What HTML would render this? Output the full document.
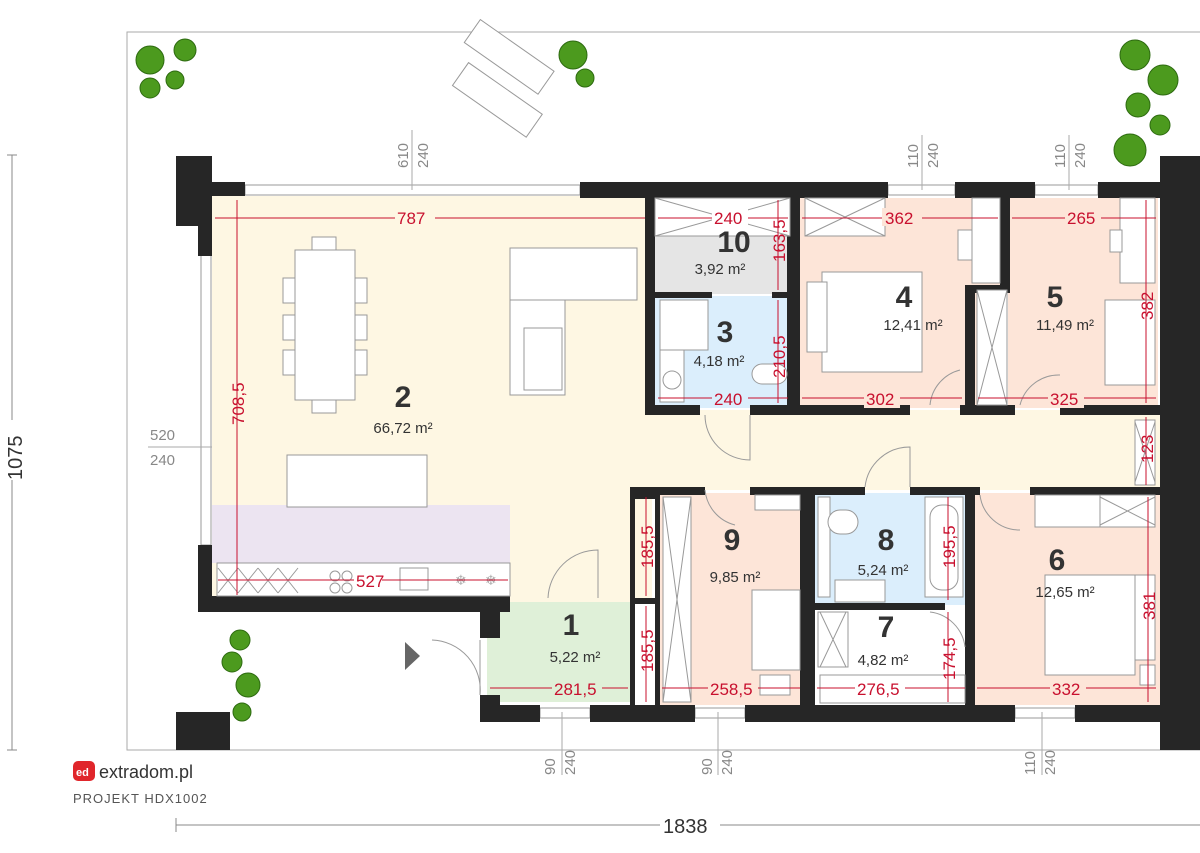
<!DOCTYPE html>
<html><head><meta charset="utf-8"><style>
html,body{margin:0;padding:0;background:#fff;width:1200px;height:853px;overflow:hidden}
svg{display:block}
.w{fill:#262626}
.r{stroke:#c8102e;stroke-width:1}
.rt{fill:#c8102e;font-family:"Liberation Sans",sans-serif;font-size:17px}
.n{fill:#333;font-family:"Liberation Sans",sans-serif;font-size:30px;font-weight:bold}
.a{fill:#333;font-family:"Liberation Sans",sans-serif;font-size:15px}
.g{fill:#888;font-family:"Liberation Sans",sans-serif;font-size:15px}
.f{fill:#fff;stroke:#999;stroke-width:1}
.ln{stroke:#999;stroke-width:1;fill:none}
</style></head><body>
<svg width="1200" height="853" viewBox="0 0 1200 853" xmlns="http://www.w3.org/2000/svg">
<!-- outer site border -->
<rect x="127" y="32" width="1100" height="718" fill="none" stroke="#aaa"/>
<!-- room fills -->
<rect x="212" y="196" width="440" height="404" fill="#fef7e3"/>
<rect x="645" y="410" width="515" height="80" fill="#fef7e3"/>
<rect x="500" y="487" width="135" height="115" fill="#fef7e3"/>
<rect x="212" y="505" width="298" height="58" fill="#ece4f1"/>
<rect x="655" y="198" width="135" height="96" fill="#e5e5e5"/>
<rect x="655" y="296" width="135" height="112" fill="#dbeefc"/>
<rect x="800" y="198" width="205" height="210" fill="#fde5d8"/>
<rect x="1008" y="198" width="150" height="210" fill="#fde5d8"/>
<rect x="660" y="493" width="145" height="212" fill="#fde5d8"/>
<rect x="815" y="493" width="155" height="112" fill="#dbeefc"/>
<rect x="815" y="607" width="155" height="98" fill="#fff"/>
<rect x="970" y="493" width="190" height="212" fill="#fde5d8"/>
<rect x="487" y="602" width="143" height="100" fill="#dff0d8"/>

<!-- windows -->
<g stroke="#999" fill="#fff">
<rect x="245" y="185" width="335" height="10"/>
<rect x="888" y="185" width="67" height="10"/>
<rect x="1035" y="185" width="63" height="10"/>
<rect x="201" y="255" width="10" height="290"/>
<rect x="540" y="708" width="50" height="10"/>
<rect x="695" y="708" width="50" height="10"/>
<rect x="1015" y="708" width="60" height="10"/>
</g>
<!-- walls -->
<g class="w">
<rect x="176" y="156" width="36" height="70"/>
<rect x="198" y="182" width="47" height="14"/>
<rect x="198" y="196" width="14" height="60"/>
<rect x="580" y="182" width="308" height="16"/>
<rect x="955" y="182" width="80" height="16"/>
<rect x="1098" y="182" width="62" height="16"/>
<rect x="1160" y="156" width="40" height="594"/>
<rect x="198" y="545" width="14" height="67"/>
<rect x="198" y="596" width="312" height="16"/>
<rect x="176" y="712" width="54" height="38"/>
<rect x="480" y="600" width="20" height="38"/>
<rect x="480" y="695" width="20" height="27"/>
<rect x="480" y="705" width="60" height="17"/>
<rect x="590" y="705" width="105" height="17"/>
<rect x="745" y="705" width="270" height="17"/>
<rect x="1075" y="705" width="85" height="17"/>
<rect x="645" y="198" width="10" height="217"/>
<rect x="787" y="198" width="13" height="217"/>
<rect x="655" y="292" width="57" height="6"/>
<rect x="772" y="292" width="18" height="6"/>
<rect x="645" y="405" width="55" height="10"/>
<rect x="750" y="405" width="160" height="10"/>
<rect x="960" y="405" width="55" height="10"/>
<rect x="1060" y="405" width="100" height="10"/>
<rect x="1000" y="198" width="10" height="92"/>
<rect x="965" y="285" width="45" height="8"/>
<rect x="965" y="285" width="10" height="130"/>
<rect x="630" y="487" width="75" height="8"/>
<rect x="750" y="487" width="115" height="8"/>
<rect x="910" y="487" width="70" height="8"/>
<rect x="1030" y="487" width="130" height="8"/>
<rect x="630" y="487" width="30" height="12"/>
<rect x="655" y="487" width="5" height="218"/>
<rect x="630" y="487" width="5" height="218"/>
<rect x="630" y="598" width="30" height="6"/>
<rect x="800" y="487" width="15" height="218"/>
<rect x="815" y="603" width="130" height="7"/>
<rect x="965" y="487" width="10" height="218"/>
</g>
<!-- furniture -->
<g class="f">
<rect x="295" y="250" width="60" height="150"/>
<rect x="312" y="237" width="24" height="13"/><rect x="312" y="400" width="24" height="13"/>
<rect x="283" y="278" width="12" height="25"/><rect x="283" y="315" width="12" height="25"/><rect x="283" y="350" width="12" height="25"/>
<rect x="355" y="278" width="12" height="25"/><rect x="355" y="315" width="12" height="25"/><rect x="355" y="350" width="12" height="25"/>
<rect x="510" y="248" width="127" height="52"/>
<rect x="510" y="300" width="55" height="95"/>
<rect x="524" y="328" width="38" height="62"/>
<rect x="287" y="455" width="140" height="52"/>
<rect x="217" y="563" width="293" height="33"/>
<rect x="655" y="198" width="135" height="38"/>
<rect x="805" y="198" width="80" height="38"/>
<rect x="660" y="300" width="48" height="50"/>
<rect x="660" y="350" width="24" height="52"/>
<circle cx="672" cy="380" r="9"/>
<rect x="752" y="364" width="35" height="20" rx="10"/>
<rect x="822" y="272" width="100" height="100"/>
<rect x="807" y="282" width="20" height="70"/>
<rect x="972" y="198" width="28" height="85"/>
<rect x="958" y="230" width="14" height="30"/>
<rect x="977" y="290" width="30" height="115"/>
<rect x="1120" y="198" width="35" height="85"/>
<rect x="1105" y="300" width="50" height="85"/>
<rect x="1110" y="230" width="12" height="22"/>
<rect x="663" y="497" width="28" height="205"/>
<rect x="755" y="495" width="45" height="15"/>
<rect x="752" y="590" width="48" height="80"/>
<rect x="760" y="675" width="30" height="20"/>
<rect x="818" y="497" width="12" height="100"/>
<rect x="828" y="510" width="30" height="24" rx="12"/>
<rect x="925" y="497" width="38" height="100"/>
<rect x="930" y="505" width="28" height="85" rx="12"/>
<rect x="835" y="580" width="50" height="22"/>
<rect x="818" y="612" width="30" height="55"/>
<rect x="820" y="675" width="145" height="28"/>
<rect x="1035" y="495" width="65" height="32"/>
<rect x="1100" y="495" width="55" height="32"/>
<rect x="1045" y="575" width="90" height="100"/>
<rect x="1135" y="575" width="20" height="85"/>
<rect x="1140" y="665" width="15" height="20"/>
<rect x="1135" y="420" width="20" height="65"/>
</g>
<g class="ln">
<path d="M655 198L790 236M790 198L655 236M805 198L885 236M885 198L805 236M977 290L1007 405M1007 290L977 405M663 497L691 702M691 497L663 702M820 612L846 667M846 612L820 667M218 568l20 25m0-25l-20 25M238 568l20 25m0-25l-20 25M258 568l20 25m0-25l-20 25M278 568l20 25m0-25l-20 25M1135 422l20 60m0-60l-20 60M1100 497l55 28m0-28l-55 28"/>
<path d="M705 415a45 45 0 0 0 45 45V415M865 487a45 45 0 0 1 45-40v40M548 598a50 50 0 0 1 50-48V598M432 640a50 50 0 0 1 48 55V640M930 405a40 40 0 0 1 30-35M1020 405a40 40 0 0 1 40-30M705 490a40 40 0 0 0 30 35M980 495a40 40 0 0 0 40 35M930 612a40 40 0 0 1 35 35"/>
</g>
<g fill="#fff" stroke="#999">
<circle cx="335" cy="576" r="5"/><circle cx="347" cy="576" r="5"/><circle cx="335" cy="588" r="5"/><circle cx="347" cy="588" r="5"/>
<rect x="400" y="568" width="28" height="22"/>
</g>
<text x="455" y="585" fill="#aaa" font-size="14">❄</text><text x="485" y="585" fill="#aaa" font-size="14">❄</text>
<polygon points="405,642 420,656 405,670" fill="#666"/>
<!-- loungers -->
<g class="f" transform="rotate(35 500 70)"><rect x="455" y="40" width="90" height="28"/><rect x="470" y="82" width="90" height="28"/></g>
<!-- plants -->
<g fill="#4c9a1e" stroke="#2d6a10">
<circle cx="150" cy="60" r="14"/><circle cx="185" cy="50" r="11"/><circle cx="175" cy="80" r="9"/><circle cx="150" cy="88" r="10"/>
<circle cx="573" cy="55" r="14"/><circle cx="585" cy="78" r="9"/>
<circle cx="1135" cy="55" r="15"/><circle cx="1163" cy="80" r="15"/><circle cx="1138" cy="105" r="12"/><circle cx="1160" cy="125" r="10"/><circle cx="1130" cy="150" r="16"/>
<circle cx="240" cy="640" r="10"/><circle cx="232" cy="662" r="10"/><circle cx="248" cy="685" r="12"/><circle cx="242" cy="712" r="9"/>
</g>
<!-- red dimensions -->
<g class="r">
<line x1="215" y1="218" x2="645" y2="218"/><line x1="658" y1="218" x2="788" y2="218"/><line x1="802" y1="218" x2="998" y2="218"/><line x1="1012" y1="218" x2="1156" y2="218"/>
<line x1="237" y1="200" x2="237" y2="595"/>
<line x1="778" y1="200" x2="778" y2="290"/><line x1="778" y1="300" x2="778" y2="403"/>
<line x1="658" y1="398" x2="788" y2="398"/><line x1="802" y1="398" x2="962" y2="398"/><line x1="978" y1="398" x2="1156" y2="398"/>
<line x1="1146" y1="200" x2="1146" y2="403"/><line x1="1146" y1="417" x2="1146" y2="485"/>
<line x1="646" y1="497" x2="646" y2="596"/><line x1="646" y1="606" x2="646" y2="702"/>
<line x1="948" y1="497" x2="948" y2="600"/><line x1="948" y1="612" x2="948" y2="702"/>
<line x1="1148" y1="497" x2="1148" y2="702"/>
<line x1="490" y1="688" x2="628" y2="688"/><line x1="662" y1="688" x2="800" y2="688"/><line x1="817" y1="688" x2="965" y2="688"/><line x1="977" y1="688" x2="1156" y2="688"/>
<line x1="218" y1="580" x2="508" y2="580"/>
</g>
<g class="rt">
<rect x="395" y="208" width="40" height="18" fill="#fef7e3"/><text x="397" y="224">787</text>
<rect x="712" y="208" width="36" height="18" fill="#fff"/><text x="714" y="224">240</text>
<rect x="882" y="208" width="40" height="18" fill="#fde5d8"/><text x="885" y="224">362</text>
<rect x="1065" y="208" width="36" height="18" fill="#fde5d8"/><text x="1067" y="224">265</text>
<rect x="712" y="390" width="36" height="18" fill="#dbeefc"/><text x="714" y="405">240</text>
<rect x="864" y="390" width="36" height="18" fill="#fde5d8"/><text x="866" y="405">302</text>
<rect x="1048" y="390" width="36" height="18" fill="#fde5d8"/><text x="1050" y="405">325</text>
<rect x="552" y="680" width="50" height="18" fill="#dff0d8"/><text x="554" y="695">281,5</text>
<rect x="708" y="680" width="50" height="18" fill="#fde5d8"/><text x="710" y="695">258,5</text>
<rect x="855" y="680" width="50" height="18" fill="#fff"/><text x="857" y="695">276,5</text>
<rect x="1050" y="680" width="36" height="18" fill="#fde5d8"/><text x="1052" y="695">332</text>
<rect x="354" y="572" width="28" height="16" fill="#fff"/><text x="356" y="587">527</text>
<text transform="translate(244 425) rotate(-90)">708,5</text>
<text transform="translate(785 262) rotate(-90)">163,5</text>
<text transform="translate(785 378) rotate(-90)">210,5</text>
<text transform="translate(1153 320) rotate(-90)">382</text>
<text transform="translate(1153 463) rotate(-90)">123</text>
<text transform="translate(653 568) rotate(-90)">185,5</text>
<text transform="translate(653 672) rotate(-90)">185,5</text>
<text transform="translate(955 568) rotate(-90)">195,5</text>
<text transform="translate(955 680) rotate(-90)">174,5</text>
<text transform="translate(1155 620) rotate(-90)">381</text>
</g>
<!-- room labels -->
<text class="n" x="403" y="407" text-anchor="middle">2</text><text class="a" x="403" y="433" text-anchor="middle">66,72 m²</text>
<text class="n" x="734" y="252" text-anchor="middle">10</text><text class="a" x="720" y="274" text-anchor="middle">3,92 m²</text>
<text class="n" x="725" y="342" text-anchor="middle">3</text><text class="a" x="719" y="366" text-anchor="middle">4,18 m²</text>
<text class="n" x="904" y="307" text-anchor="middle">4</text><text class="a" x="913" y="330" text-anchor="middle">12,41 m²</text>
<text class="n" x="1055" y="307" text-anchor="middle">5</text><text class="a" x="1065" y="330" text-anchor="middle">11,49 m²</text>
<text class="n" x="732" y="550" text-anchor="middle">9</text><text class="a" x="735" y="582" text-anchor="middle">9,85 m²</text>
<text class="n" x="886" y="550" text-anchor="middle">8</text><text class="a" x="883" y="575" text-anchor="middle">5,24 m²</text>
<text class="n" x="886" y="637" text-anchor="middle">7</text><text class="a" x="883" y="665" text-anchor="middle">4,82 m²</text>
<text class="n" x="1057" y="570" text-anchor="middle">6</text><text class="a" x="1065" y="597" text-anchor="middle">12,65 m²</text>
<text class="n" x="571" y="635" text-anchor="middle">1</text><text class="a" x="575" y="662" text-anchor="middle">5,22 m²</text>
<!-- grey annotations -->
<g class="g">
<text transform="translate(408 168) rotate(-90)">610</text><text transform="translate(428 168) rotate(-90)">240</text>
<line x1="412" y1="130" x2="412" y2="190" stroke="#aaa"/>
<text transform="translate(918 168) rotate(-90)">110</text><text transform="translate(938 168) rotate(-90)">240</text>
<line x1="922" y1="135" x2="922" y2="190" stroke="#aaa"/>
<text transform="translate(1065 168) rotate(-90)">110</text><text transform="translate(1085 168) rotate(-90)">240</text>
<line x1="1069" y1="135" x2="1069" y2="190" stroke="#aaa"/>
<text x="150" y="440">520</text><text x="150" y="465">240</text><line x1="148" y1="447" x2="212" y2="447" stroke="#aaa"/>
<text transform="translate(555 775) rotate(-90)">90</text><text transform="translate(575 775) rotate(-90)">240</text>
<text transform="translate(712 775) rotate(-90)">90</text><text transform="translate(732 775) rotate(-90)">240</text>
<text transform="translate(1035 775) rotate(-90)">110</text><text transform="translate(1055 775) rotate(-90)">240</text>
<line x1="562" y1="712" x2="562" y2="775" stroke="#aaa"/><line x1="718" y1="712" x2="718" y2="775" stroke="#aaa"/><line x1="1042" y1="712" x2="1042" y2="775" stroke="#aaa"/>
</g>
<line x1="12" y1="155" x2="12" y2="750" stroke="#888"/>
<line x1="7" y1="155" x2="17" y2="155" stroke="#888"/><line x1="7" y1="750" x2="17" y2="750" stroke="#888"/>
<rect x="0" y="420" width="24" height="60" fill="#fff"/>
<text transform="translate(22 480) rotate(-90)" fill="#333" font-family="Liberation Sans,sans-serif" font-size="20">1075</text>
<line x1="176" y1="825" x2="1200" y2="825" stroke="#888"/><line x1="176" y1="818" x2="176" y2="832" stroke="#888"/>
<rect x="660" y="812" width="60" height="26" fill="#fff"/>
<text x="663" y="833" fill="#333" font-family="Liberation Sans,sans-serif" font-size="20">1838</text>
<!-- logo -->
<rect x="73" y="761" width="22" height="20" rx="5" fill="#e0262b"/>
<text x="76" y="776" fill="#fff" font-family="Liberation Sans,sans-serif" font-size="11" font-weight="bold">ed</text>
<text x="99" y="778" fill="#333" font-family="Liberation Sans,sans-serif" font-size="18">extradom.pl</text>
<text x="73" y="803" fill="#555" font-family="Liberation Sans,sans-serif" font-size="13" letter-spacing="1">PROJEKT HDX1002</text>
</svg>
</body></html>
